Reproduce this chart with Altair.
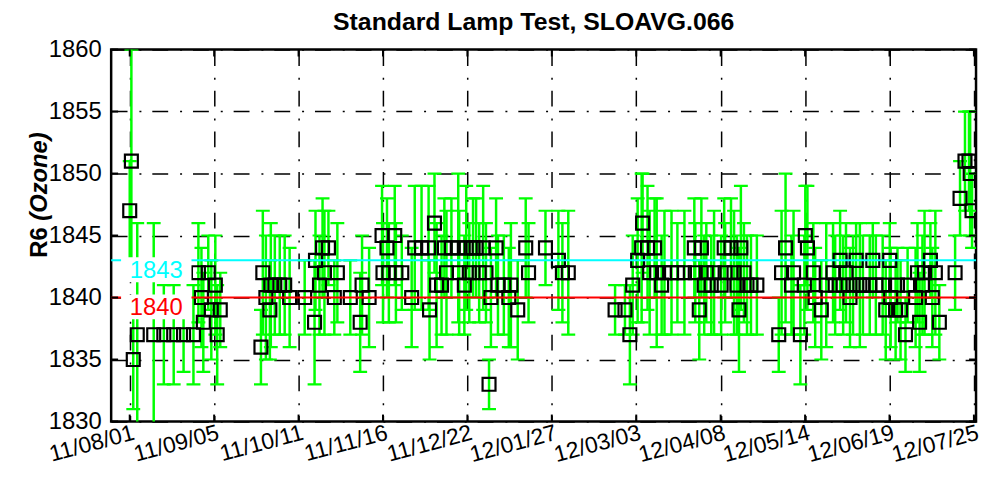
import json
import altair as alt
import pandas as pd

# ---------------- data ----------------
# day offset from 2011-08-01
DAYS = [0.0, 0.7, 1.5, 3.2, 10.2, 14.5, 18.7, 22.9, 27.1, 29.2, 30.5, 31.3, 33.4, 34.7, 36.4, 37.2, 38.5,
        55.8, 56.6, 57.9, 59.6, 60.0, 61.7, 63.8, 65.9, 68.0, 74.4, 78.6, 79.0, 80.7, 82.0, 82.8, 84.5, 87.0, 88.3,
        93.8, 98.0, 98.8, 101.8,
        107.3, 107.7, 109.4, 110.2, 112.7, 113.2, 115.7, 119.9, 121.2, 124.1, 127.1, 127.5, 129.6, 130.5, 132.6,
        133.8, 134.7, 136.8, 139.7, 140.1, 142.3, 143.1, 144.4, 146.0, 147.3, 148.6, 150.3, 151.5, 152.8, 153.6,
        155.8, 156.6, 159.1, 161.2, 162.1, 165.0, 168.4, 169.6, 176.8, 182.3, 184.0, 186.5,
        206.4, 210.6, 212.7, 213.9, 216.0, 218.1, 217.7, 220.2, 221.1, 223.2, 224.1, 226.2, 227.4, 230.4, 232.9,
        235.9, 240.1, 240.5, 242.2, 243.1, 244.3, 245.2, 247.3, 248.5, 251.5, 252.8, 253.2, 255.7, 257.0, 258.2,
        259.1, 259.9, 261.2, 262.5, 264.2, 266.7,
        276.0, 277.2, 278.9, 281.4, 282.3, 285.2, 287.3, 288.2, 286.9, 290.7, 291.5, 294.1, 296.2, 299.1, 300.0,
        302.1, 303.4, 304.6, 306.3, 307.6, 308.9, 310.5, 311.8, 314.7, 316.0, 317.3, 320.2, 321.5, 323.2, 323.6,
        325.7, 326.5, 327.8, 329.9, 330.8, 334.2, 335.0, 335.9, 337.1, 338.0, 340.5, 341.3, 342.6, 344.3, 351.0,
        353.1, 355.2, 356.9, 357.4, 358.2]

R6 = [1847, 1851, 1835, 1837, 1837, 1837, 1837, 1837, 1837, 1842, 1840, 1838, 1842, 1839, 1841, 1837, 1839,
      1836, 1842, 1840, 1839, 1841, 1841, 1841, 1841, 1840, 1840, 1838, 1843, 1841, 1844, 1842, 1844, 1840, 1842,
      1840, 1838, 1841, 1840,
      1845, 1842, 1844, 1842, 1845, 1842, 1842, 1840, 1844, 1844, 1844, 1839, 1846, 1841, 1841,
      1844, 1842, 1844, 1844, 1842, 1841, 1844, 1842, 1844, 1844, 1842, 1844, 1842, 1833, 1840,
      1844, 1841, 1841, 1840, 1841, 1839, 1844, 1842, 1844, 1843, 1842, 1842,
      1839, 1839, 1837, 1841, 1843, 1846, 1844, 1844, 1842, 1844, 1842, 1841, 1842, 1842, 1842,
      1842, 1844, 1842, 1839, 1844, 1841, 1842, 1841, 1842, 1841, 1844, 1842, 1844, 1842, 1841,
      1839, 1844, 1842, 1841, 1841, 1841,
      1837, 1842, 1844, 1841, 1842, 1837, 1845, 1844, 1841, 1842, 1840, 1839, 1841, 1842, 1841,
      1843, 1841, 1842, 1840, 1841, 1843, 1841, 1841, 1841, 1843, 1841, 1841, 1839, 1843, 1840,
      1839, 1841, 1839, 1837, 1841, 1840, 1842, 1838, 1841, 1842, 1843, 1840, 1842, 1838, 1842,
      1848, 1851, 1851, 1850, 1847]

ERR = [4, 9, 4, 9, 9, 4, 4, 3, 4, 4, 4, 4, 3, 4, 4, 4, 3,
       3, 5, 5, 4, 5, 4, 4, 4, 4, 3, 5, 4, 4, 4, 5, 3, 3, 4, 3, 4, 4, 4,
       4, 4, 4, 4, 4, 4, 3, 4, 5, 5, 5, 4, 4, 5, 4, 4, 5, 4, 6, 5, 4, 5, 4, 4, 4, 4, 5, 4, 2, 4,
       4, 4, 4, 4, 5, 4, 4, 4, 3, 4, 4, 5,
       2, 2, 4, 4, 5, 4, 6, 5, 5, 4, 6, 4, 5, 5, 4, 5, 4, 4, 4, 4, 4, 4, 4, 5, 4, 4, 4, 4, 5, 4,
       5, 5, 4, 4, 4, 4,
       3, 5, 6, 4, 5, 4, 4, 5, 4, 4, 4, 4, 5, 4, 4, 4, 4, 4, 4, 4, 3, 5, 4, 4, 3, 4, 4, 4, 3, 4,
       4, 3, 4, 3, 3, 4, 4, 4, 4, 5, 3, 4, 5, 3, 3, 3, 4, 4, 5, 3]

TICK_DAYS = [0, 35.9, 71.8, 107.7, 143.6, 179.5, 215.4, 251.3, 287.2, 323.1, 359.0]
TICK_LABELS = ["11/08/01", "11/09/05", "11/10/11", "11/11/16", "11/12/22", "12/01/27",
               "12/03/03", "12/04/08", "12/05/14", "12/06/19", "12/07/25"]
Y_TICKS = [1830, 1835, 1840, 1845, 1850, 1855, 1860]
REF_LEVELS = [1843, 1840]
REF_COLORS = ["#00FFFF", "#FF0000"]
REF_TEXT = ["1843", "1840"]
TITLE = "Standard Lamp Test, SLOAVG.066"
YLAB_MAIN = "R6"
YLAB_ITAL = "(Ozone)"

# ---------------- styling ----------------
FONT = "Liberation Sans, Arial, Helvetica, sans-serif"
W, H = 872, 375
X_DOMAIN = [-7.9, 359.9]
Y_DOMAIN = [1830, 1860]
GREEN = "#00FF00"

df = pd.DataFrame({"day": DAYS, "r6": R6, "err": ERR})
df["lo"] = df["r6"] - df["err"]
df["hi"] = df["r6"] + df["err"]

label_expr = json.dumps(TICK_LABELS) + "[round(datum.value / 35.9)]"

AX_X = alt.Axis(values=TICK_DAYS, labelExpr=label_expr, labelAngle=-15, labelAlign="right",
                labelBaseline="top", labelFont=FONT, labelFontSize=23, labelColor="black",
                labelPadding=0, labelOffset=1, labelOverlap=False, labelFlush=False, labelBound=False,
                grid=True, gridColor="black", gridDash=[16, 12, 2, 11], gridWidth=1.5, gridOpacity=1,
                ticks=False, domain=False, title=None)
AX_Y = alt.Axis(values=Y_TICKS, format="d", labelFont=FONT, labelFontSize=24, labelColor="black",
                labelPadding=10, labelOverlap=False, labelFlush=False, labelBound=False,
                grid=True, gridColor="black", gridDash=[16, 12, 2, 11], gridWidth=1.5, gridOpacity=1,
                ticks=False, domain=False, title=None)
SX = alt.Scale(domain=X_DOMAIN, nice=False, zero=False)
SY = alt.Scale(domain=Y_DOMAIN, nice=False, zero=False)


def xe(f):
    return alt.X(f, type="quantitative", scale=SX, axis=AX_X)


def ye(f):
    return alt.Y(f, type="quantitative", scale=SY, axis=AX_Y)


base = alt.Chart(df)

bars = base.mark_rule(color=GREEN, strokeWidth=2.5, clip=True).encode(
    x=xe("day"), y=ye("lo"), y2="hi")
cap_hi = base.mark_rule(color=GREEN, strokeWidth=2.2, clip=True, xOffset=-7, x2Offset=7).encode(
    x=xe("day"), x2="day", y=ye("hi"))
cap_lo = base.mark_rule(color=GREEN, strokeWidth=2.2, clip=True, xOffset=-7, x2Offset=7).encode(
    x=xe("day"), x2="day", y=ye("lo"))
squares = base.mark_square(filled=False, color="black", stroke="black", strokeWidth=2.2,
                           size=170, opacity=1, clip=True).encode(x=xe("day"), y=ye("r6"))

ref = pd.DataFrame({"lvl": REF_LEVELS, "col": REF_COLORS, "txt": REF_TEXT})
ref_lines = alt.Chart(ref).mark_rule(strokeWidth=2).encode(
    y=ye("lvl"), color=alt.Color("col:N", scale=None))
ref_box = alt.Chart(ref).mark_rect(color="white", yOffset=-3, y2Offset=22).encode(
    x=alt.value(10), x2=alt.value(81), y=ye("lvl"), y2="lvl")
ref_text = alt.Chart(ref).mark_text(font=FONT, fontSize=24, align="center", baseline="top", dy=-1).encode(
    x=alt.value(45.5), y=ye("lvl"), text="txt:N", color=alt.Color("col:N", scale=None))

xt = pd.DataFrame({"t": TICK_DAYS})
yt = pd.DataFrame({"v": Y_TICKS})
xt_top = alt.Chart(xt).mark_rule(color="black", strokeWidth=2).encode(
    x=xe("t"), y=alt.value(0), y2=alt.value(7))
xt_bot = alt.Chart(xt).mark_rule(color="black", strokeWidth=2).encode(
    x=xe("t"), y=alt.value(H - 7), y2=alt.value(H))
yt_l = alt.Chart(yt).mark_rule(color="black", strokeWidth=2).encode(
    y=ye("v"), x=alt.value(0), x2=alt.value(7))
yt_r = alt.Chart(yt).mark_rule(color="black", strokeWidth=2).encode(
    y=ye("v"), x=alt.value(W - 7), x2=alt.value(W))

ylab = pd.DataFrame({"a": [YLAB_MAIN], "b": [YLAB_ITAL], "t": [TITLE]})
ylab_main = alt.Chart(ylab).mark_text(font=FONT, fontSize=24, fontWeight="bold", angle=270,
                                      align="center", baseline="alphabetic").encode(
    x=alt.value(-65), y=alt.value(194.5), text="a:N")
ylab_ital = alt.Chart(ylab).mark_text(font=FONT, fontSize=24, fontWeight="bold", fontStyle="italic",
                                      angle=270, align="center", baseline="alphabetic").encode(
    x=alt.value(-65), y=alt.value(128), text="b:N")
title_txt = alt.Chart(ylab).mark_text(font=FONT, fontSize=25, fontWeight="bold", color="black",
                                      align="center", baseline="alphabetic").encode(
    x=alt.value(W / 2 - 10), y=alt.value(-20), text="t:N")

chart = alt.layer(
    bars, cap_hi, cap_lo, squares, ref_lines, ref_box, ref_text,
    xt_top, xt_bot, yt_l, yt_r, ylab_main, ylab_ital, title_txt
).properties(
    width=W, height=H,
    autosize=alt.AutoSizeParams(type="none"),
    padding={"left": 104, "top": 40, "right": 4, "bottom": 47},
).configure_view(stroke="black", strokeWidth=2.5)

chart.save("out.html", embed_options={"renderer": "svg", "actions": False})
